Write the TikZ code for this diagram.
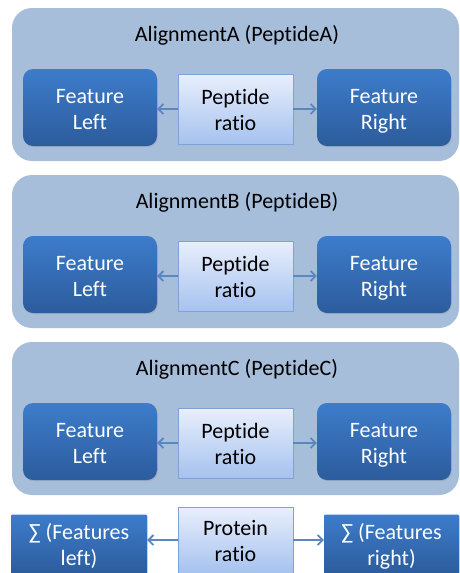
\documentclass[tikz,border=0pt]{standalone}
\usepackage{fontspec}
\setmainfont{Carlito}[Ligatures=NoCommon]
\usetikzlibrary{arrows.meta,shadows}
\definecolor{panelfill}{HTML}{A7BEDB}
\definecolor{darktop}{HTML}{3D7CCB}
\definecolor{darkbot}{HTML}{2C5C9C}
\definecolor{lighttop}{HTML}{E8EFFC}
\definecolor{lightbot}{HTML}{A6C2EF}
\definecolor{lightborder}{HTML}{7EA2D6}
\definecolor{arrowcol}{HTML}{5A86C2}
\newcommand{\linestrut}{\rule[-4.5pt]{0pt}{26pt}}
\newcommand{\twolines}[2]{#1\linestrut\\#2\linestrut}
\tikzset{
  panel/.style={fill=panelfill, draw=none, rounded corners=20pt, minimum width=447pt, minimum height=153pt, inner sep=0pt},
  featbox/.style={top color=darktop, bottom color=darkbot, draw=none, rounded corners=10pt,
     minimum width=134pt, minimum height=77pt, text=white, align=center, inner sep=0pt,
     font=\fontsize{22}{26}\selectfont, drop shadow={opacity=0.25, shadow xshift=0.8pt, shadow yshift=-1.2pt}},
  sumbox/.style={featbox, rounded corners=1pt, minimum width=136pt, minimum height=59pt},
  ratiobox/.style={top color=lighttop, bottom color=lightbot, draw=lightborder, line width=0.8pt,
     minimum width=115pt, minimum height=70pt, align=center, inner sep=0pt, text=black,
     font=\fontsize{22}{26}\selectfont},
  title/.style={font=\fontsize{22}{26}\selectfont, text=black, inner sep=0pt},
  link/.style={draw=arrowcol, line width=1.8pt, -{Straight Barb[length=5pt,width=10pt]}}
}
\begin{document}
\begin{tikzpicture}[x=1pt,y=-1pt]
\useasboundingbox (0,0) rectangle (459,573);
% Panels
\node[panel] (pA) at (235.5,84.5) {};
\node[panel] (pB) at (235.5,251.5) {};
\node[panel] (pC) at (235.5,418.5) {};
\node[title] (tA) at (237,35) {AlignmentA (PeptideA)};
\node[title] (tB) at (237,202) {AlignmentB (PeptideB)};
\node[title] (tC) at (237,369) {AlignmentC (PeptideC)};
% Row A
\node[featbox] (lA) at (90,107.5) {\twolines{Feature}{Left}};
\node[ratiobox] (rA) at (235.5,109) {\twolines{Peptide}{ratio}};
\node[featbox] (gA) at (384,107.5) {\twolines{Feature}{Right}};
% Row B
\node[featbox] (lB) at (90,274.5) {\twolines{Feature}{Left}};
\node[ratiobox] (rB) at (235.5,276) {\twolines{Peptide}{ratio}};
\node[featbox] (gB) at (384,274.5) {\twolines{Feature}{Right}};
% Row C
\node[featbox] (lC) at (90,441.5) {\twolines{Feature}{Left}};
\node[ratiobox] (rC) at (235.5,443) {\twolines{Peptide}{ratio}};
\node[featbox] (gC) at (384,441.5) {\twolines{Feature}{Right}};
% Bottom row
\node[sumbox] (sL) at (79,544) {\twolines{∑ (Features}{left)}};
\node[ratiobox, minimum height=66pt] (pr) at (235.5,540) {\twolines{Protein}{ratio}};
\node[sumbox, minimum width=135pt] (sR) at (391.5,544) {\twolines{∑ (Features}{right)}};
% Arrows
\foreach \r/\l/\g in {rA/lA/gA, rB/lB/gB, rC/lC/gC, pr/sL/sR}{
  \draw[link] (\r.west) -- (\r.west -| \l.east);
  \draw[link] (\r.east) -- (\r.east -| \g.west);
}
\end{tikzpicture}
\end{document}
